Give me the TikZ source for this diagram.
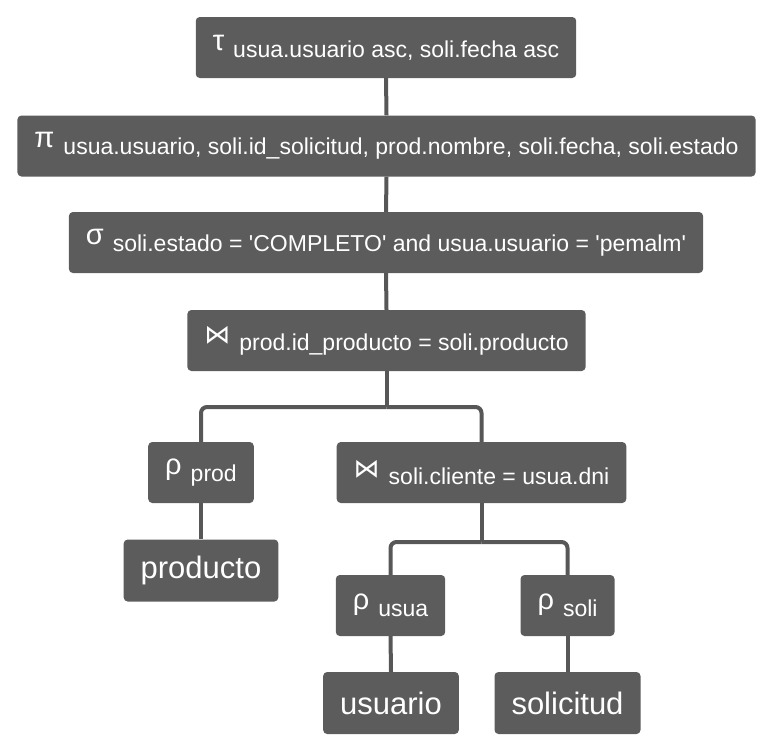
\documentclass[tikz,border=0pt]{standalone}
\usepackage{fontspec}
\setmainfont{Liberation Sans}
\newfontfamily\symfont{DejaVu Sans}
\definecolor{boxc}{HTML}{5C5C5C}
\definecolor{linec}{HTML}{575757}
\newcommand\opl[2]{{\fontsize{29}{32}\selectfont #1}\hspace{9pt}\raisebox{-7pt}{#2}}
\newcommand\joinsym{{\symfont\fontsize{26}{30}\selectfont ⋈}}
\begin{document}
\begin{tikzpicture}[x=1pt,y=-1pt,
  opbox/.style={fill=boxc, text=white, rounded corners=4pt, minimum height=61pt,
    inner xsep=17pt, inner ysep=0pt, font=\fontsize{23}{27}\selectfont},
  leaf/.style={opbox, minimum height=62pt, inner xsep=17pt, font=\fontsize{31}{36}\selectfont},
  conn/.style={draw=linec, line width=4pt, rounded corners=6pt}]
\useasboundingbox (0,0) rectangle (775,755);
\node[opbox] (tau) at (386,47.5) {\opl{τ}{usua.usuario asc, soli.fecha asc}};
\node[opbox] (pi) at (386.5,146) {\opl{π}{usua.usuario, soli.id\_solicitud, prod.nombre, soli.fecha, soli.estado}};
\node[opbox] (sig) at (386,242.5) {\opl{σ}{soli.estado = \textquotesingle COMPLETO\textquotesingle{} and usua.usuario = \textquotesingle pemalm\textquotesingle}};
\node[opbox] (j1) at (386.5,340.5) {\opl{\joinsym}{prod.id\_producto = soli.producto}};
\node[opbox] (rp) at (201,472.5) {\opl{ρ}{prod}};
\node[opbox] (j2) at (481.5,472.5) {\opl{\joinsym}{soli.cliente = usua.dni}};
\node[leaf] (prod) at (201,570.5) {producto};
\node[opbox] (ru) at (390.5,605.5) {\opl{ρ}{usua}};
\node[opbox] (rs) at (567.5,605.5) {\opl{ρ}{soli}};
\node[leaf] (usu) at (391,703) {usuario};
\node[leaf] (sol) at (567.5,703) {solicitud};
\coordinate (b1) at (386.5,407);
\coordinate (b2) at (481.5,542);
\draw[conn] (tau.south) -- (pi.north);
\draw[conn] (pi.south) -- (sig.north);
\draw[conn] (sig.south) -- (j1.north);
\draw[conn] (j1.south) -- (b1);
\draw[conn] (b1) -| (rp.north);
\draw[conn] (b1) -| (j2.north);
\draw[conn] (rp.south) -- (prod.north);
\draw[conn] (j2.south) -- (b2);
\draw[conn] (b2) -| (ru.north);
\draw[conn] (b2) -| (rs.north);
\draw[conn] (ru.south) -- (usu.north);
\draw[conn] (rs.south) -- (sol.north);
\end{tikzpicture}
\end{document}
